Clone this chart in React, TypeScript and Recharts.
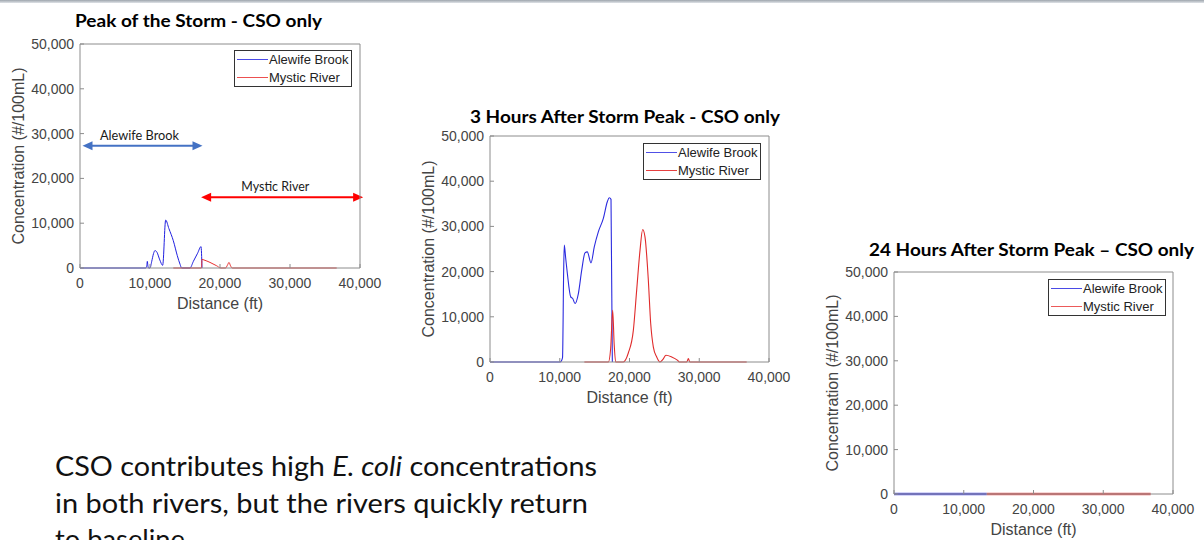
import React from 'react';
import { LineChart, Line, XAxis, YAxis, Legend, ReferenceLine } from 'recharts';

// ---------- shared axis values ----------
const seriesNames = ['Alewife Brook', 'Mystic River'];
const xTicks = [0, 10000, 20000, 30000, 40000];
const yTicks = [0, 10000, 20000, 30000, 40000, 50000];
const xDomain = [0, 40000];
const yDomain = [0, 50000];
const xAxisTitle = 'Distance (ft)';
const yAxisTitle = 'Concentration (#/100mL)';

// ---------- Peak of the storm ----------
const peakAlewifeX = [0, 9400, 9550, 9620, 9700, 9800, 10000, 10250, 10500, 10714, 11000, 11400, 11810, 12240, 12700, 13330, 13900, 14300, 14520, 15710, 16200, 16800, 17290, 17430];
const peakAlewifeY = [0, 0, 600, 1480, 500, 0, 0, 1500, 3200, 3900, 3500, 1800, 600, 10700, 8800, 6100, 2750, 800, 0, 0, 1500, 3300, 4770, 0];
const peakMysticX = [13330, 17350, 17430, 17700, 18570, 19520, 20100, 20800, 21050, 21290, 21500, 21760, 36670];
const peakMysticY = [0, 0, 1930, 1800, 1250, 500, 0, 0, 600, 1250, 500, 0, 0];

// ---------- 3 hours after ----------
const threeAlewifeX = [0, 10036, 10250, 10400, 10560, 10650, 10850, 11090, 11570, 11860, 12190, 12670, 13150, 13620, 13950, 14480, 14950, 15530, 16250, 16820, 17100, 17350, 17540];
const threeAlewifeY = [0, 0, 300, 1000, 20000, 25850, 23000, 19580, 14400, 14040, 12930, 15150, 20310, 24150, 24370, 21930, 25480, 28800, 31770, 35450, 36330, 35980, 0];
const threeMysticX = [13530, 16970, 17300, 17590, 17800, 18020, 19120, 19830, 20550, 21030, 21510, 21890, 22220, 22700, 23040, 23420, 23900, 24370, 24800, 25230, 26050, 26860, 27150, 28200, 28440, 28650, 36800];
const threeMysticY = [0, 0, 3000, 11450, 4000, 0, 0, 2000, 7000, 15900, 24750, 29300, 27700, 18100, 8500, 3300, 1100, 0, 600, 1480, 1100, 400, 0, 0, 750, 0, 0];

// ---------- 24 hours after ----------
const dayAlewifeX = [0, 13300];
const dayAlewifeY = [0, 0];
const dayMysticX = [13300, 36800];
const dayMysticY = [0, 0];

// ---------- range annotations (peak chart) ----------
const rangeLabels = ['Alewife Brook', 'Mystic River'];
const rangeStartFt = [360, 17300];
const rangeEndFt = [17500, 40450];
const rangeLevel = [27300, 15800];
const rangeLabelFt = [8500, 27900];

// ---------- texts ----------
const chartTitles = ['Peak of the Storm - CSO only', '3 Hours After Storm Peak - CSO only', '24 Hours After Storm Peak \u2013 CSO only'];

const FONT = '"Liberation Sans", Arial, sans-serif';
const CAL = 'Lato, "Open Sans", sans-serif';
const AX = '#8c8c8c';
const TXT = '#444';

const zip = (xs: number[], ys: number[]) => xs.map((x, i) => ({ x, y: ys[i] }));
const fmt = (v: number) => v.toLocaleString('en-US');
const EmptyTick = () => <g />;

const LegendBox = (props: any) => {
  const payload = props.payload || [];
  const colors: string[] = props.colors || [];
  return (
    <div style={{ width: 116, height: 35, border: '1px solid #333', background: '#fff', boxSizing: 'content-box' }}>
      {payload.map((p: any, i: number) => (
        <div key={i} style={{ display: 'flex', alignItems: 'center', height: 17.5 }}>
          <svg width={33} height={17} style={{ display: 'block' }}>
            <line x1={2} x2={33} y1={8.5} y2={8.5} stroke={colors[i] || p.color} strokeWidth={1} />
          </svg>
          <span style={{ fontFamily: FONT, fontSize: 13, color: '#222', marginLeft: 1, whiteSpace: 'nowrap', lineHeight: '17px' }}>{p.value}</span>
        </div>
      ))}
    </div>
  );
};

const rangeColors = ['#4472C4', '#FF0000'];
const rangeTextWidth = [79, 68];

const makeArrow = (i: number) => (props: any) => {
  const { x1, y1, x2, y2 } = props;
  const head = 10;
  const hw = 4.5;
  const color = rangeColors[i];
  const t = (rangeLabelFt[i] - rangeStartFt[i]) / (rangeEndFt[i] - rangeStartFt[i]);
  const lx = x1 + t * (x2 - x1);
  return (
    <g>
      <line x1={x1 + head - 1} y1={y1} x2={x2 - head + 1} y2={y2} stroke={color} strokeWidth={2} />
      <polygon points={`${x1},${y1} ${x1 + head},${y1 - hw} ${x1 + head},${y1 + hw}`} fill={color} />
      <polygon points={`${x2},${y2} ${x2 - head},${y2 - hw} ${x2 - head},${y2 + hw}`} fill={color} />
      <text x={lx} y={y1 - 6} textAnchor="middle" fontFamily={CAL} fontSize={12.5} fill="#1a1a1a" textLength={rangeTextWidth[i]} lengthAdjust="spacingAndGlyphs">
        {rangeLabels[i]}
      </text>
    </g>
  );
};

type PanelProps = {
  plotLeft: number;
  plotTop: number;
  plotW: number;
  plotH: number;
  alewife: { x: number; y: number }[];
  mystic: { x: number; y: number }[];
  colors: string[];
  legendColors: string[];
  strokeWidth: number;
  legendLeft: number;
  legendTop: number;
  annotate?: boolean;
};

const ML = 80;
const MT = 20;
const MR = 30;
const XH = 50;

const Panel = (p: PanelProps) => {
  const W = p.plotW + ML + MR;
  const H = p.plotH + MT + XH;
  const left = p.plotLeft - ML;
  const top = p.plotTop - MT;
  const xLabel = () => (
    <text x={ML + p.plotW / 2} y={MT + p.plotH + 40.5} textAnchor="middle" fontFamily={FONT} fontSize={16} fill={TXT}>
      {xAxisTitle}
    </text>
  );
  const yLabel = () => {
    const cx = ML - 56;
    const cy = MT + p.plotH / 2;
    return (
      <text x={cx} y={cy} transform={`rotate(-90 ${cx} ${cy})`} textAnchor="middle" fontFamily={FONT} fontSize={16} fill={TXT}>
        {yAxisTitle}
      </text>
    );
  };
  return (
    <div style={{ position: 'absolute', left, top, width: W, height: H }}>
      <LineChart width={W} height={H} margin={{ top: MT - 1, right: MR - 1, bottom: 0, left: 0 }}>
        <XAxis
          xAxisId={0}
          type="number"
          dataKey="x"
          domain={xDomain}
          ticks={xTicks}
          interval={0}
          tickFormatter={fmt}
          height={XH}
          tickSize={-4}
          tickMargin={14}
          axisLine={{ stroke: AX }}
          tickLine={{ stroke: AX }}
          tick={{ fill: TXT, fontSize: 14, fontFamily: FONT }}
          label={{ content: xLabel }}
        />
        <XAxis xAxisId="top" orientation="top" type="number" domain={xDomain} ticks={xTicks} interval={0} height={1} tickSize={-4} tickMargin={0} axisLine={{ stroke: AX }} tickLine={{ stroke: AX }} tick={EmptyTick} />
        <YAxis
          yAxisId={0}
          type="number"
          domain={yDomain}
          ticks={yTicks}
          interval={0}
          tickFormatter={fmt}
          width={ML}
          tickSize={-4}
          tickMargin={10}
          axisLine={{ stroke: AX }}
          tickLine={{ stroke: AX }}
          tick={{ fill: TXT, fontSize: 14, fontFamily: FONT }}
          label={{ content: yLabel }}
        />
        <YAxis yAxisId="right" orientation="right" type="number" domain={yDomain} ticks={yTicks} interval={0} width={1} tickSize={-4} tickMargin={0} axisLine={{ stroke: AX }} tickLine={{ stroke: AX }} tick={EmptyTick} />
        <Line data={p.alewife} dataKey="y" name={seriesNames[0]} type="monotone" stroke={p.colors[0]} strokeWidth={p.strokeWidth} dot={false} activeDot={false} isAnimationActive={false} />
        <Line data={p.mystic} dataKey="y" name={seriesNames[1]} type="monotone" stroke={p.colors[1]} strokeWidth={p.strokeWidth} dot={false} activeDot={false} isAnimationActive={false} />
        {p.annotate &&
          rangeLabels.map((_, i) => (
            <ReferenceLine
              key={i}
              ifOverflow="visible"
              segment={[
                { x: rangeStartFt[i], y: rangeLevel[i] },
                { x: rangeEndFt[i], y: rangeLevel[i] },
              ]}
              shape={makeArrow(i)}
            />
          ))}
        <Legend
          layout="vertical"
          align="center"
          verticalAlign="middle"
          content={<LegendBox colors={p.legendColors} />}
          wrapperStyle={{ position: 'absolute', left: p.legendLeft - left, top: p.legendTop - top, width: 118, height: 37, margin: 0, padding: 0 }}
        />
      </LineChart>
    </div>
  );
};

export default function App() {
  return (
    <div style={{ position: 'fixed', left: 0, top: 0, width: 1204, height: 540, background: '#fff', overflow: 'hidden' }}>
      <div style={{ position: 'absolute', left: 0, top: 0, width: 1204, height: 3, background: 'linear-gradient(#9ea5ad, #dfe3e7)' }} />
      <Panel plotLeft={80} plotTop={44} plotW={280} plotH={224} alewife={zip(peakAlewifeX, peakAlewifeY)} mystic={zip(peakMysticX, peakMysticY)} colors={['#2020e0', '#e83030']} legendColors={['#4a4ae6', '#ec5050']} strokeWidth={1} legendLeft={234} legendTop={50} annotate />
      <Panel plotLeft={490} plotTop={136} plotW={279} plotH={226} alewife={zip(threeAlewifeX, threeAlewifeY)} mystic={zip(threeMysticX, threeMysticY)} colors={['#2b2bdf', '#e02b2b']} legendColors={['#5050e6', '#e64040']} strokeWidth={1.1} legendLeft={643} legendTop={143} />
      <Panel plotLeft={894} plotTop={272} plotW={279} plotH={222} alewife={zip(dayAlewifeX, dayAlewifeY)} mystic={zip(dayMysticX, dayMysticY)} colors={['#5a5ae8', '#e86060']} legendColors={['#4a4ae6', '#ec5a5a']} strokeWidth={2.6} legendLeft={1048} legendTop={279} />
      <svg width={1204} height={540} style={{ position: 'absolute', left: 0, top: 0, pointerEvents: 'none' }}>
        <g fontFamily={CAL} fontWeight={700} fontSize={16.5} fill="#000">
          <text x={75} y={27} textLength={247} lengthAdjust="spacingAndGlyphs">{chartTitles[0]}</text>
          <text x={470} y={123} textLength={310} lengthAdjust="spacingAndGlyphs">{chartTitles[1]}</text>
          <text x={869} y={255.5} textLength={325} lengthAdjust="spacingAndGlyphs">{chartTitles[2]}</text>
        </g>
        <g fontFamily={CAL} fontSize={27} fill="#111">
          <text x={55} y={476} textLength={542} lengthAdjust="spacingAndGlyphs">
            CSO contributes high <tspan fontStyle="italic">E. coli</tspan> concentrations
          </text>
          <text x={55} y={512.5} textLength={533} lengthAdjust="spacingAndGlyphs">in both rivers, but the rivers quickly return</text>
          <text x={55} y={549} textLength={130} lengthAdjust="spacingAndGlyphs">to baseline</text>
        </g>
      </svg>
    </div>
  );
}
